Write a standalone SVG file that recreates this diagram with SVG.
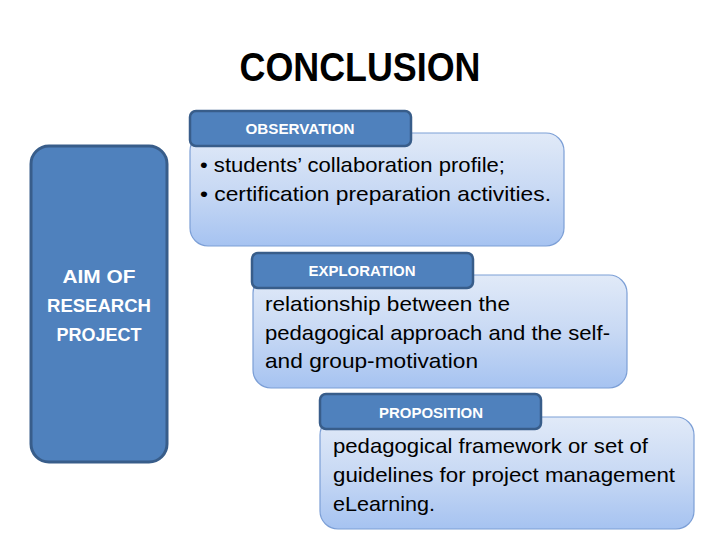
<svg xmlns="http://www.w3.org/2000/svg" width="720" height="540" viewBox="0 0 720 540">
<defs>
<linearGradient id="g" x1="0" y1="0" x2="0" y2="1">
<stop offset="0" stop-color="#e1eaf8"/>
<stop offset="0.5" stop-color="#c8d9f4"/>
<stop offset="1" stop-color="#a6c3f1"/>
</linearGradient>
<style>
.box{fill:url(#g);stroke:#7c9fd6;stroke-width:1.2}
.tab{fill:#4f81bd;stroke:#385d8a;stroke-width:2.5}
.aim{fill:#4f81bd;stroke:#385d8a;stroke-width:3}
.tl{font-family:"Liberation Sans",Arial,sans-serif;font-weight:bold;font-size:14px;fill:#fff;text-anchor:middle}
.body{font-family:"Liberation Sans",Arial,sans-serif;font-size:21px;fill:#000}
.aimt{font-family:"Liberation Sans",Arial,sans-serif;font-weight:bold;font-size:19px;fill:#fff;text-anchor:middle}
.title{font-family:"Liberation Sans",Arial,sans-serif;font-weight:bold;font-size:40px;fill:#000;text-anchor:middle}
</style>
</defs>
<rect width="720" height="540" fill="#fff"/>
<text class="title" x="360" y="81" textLength="241" lengthAdjust="spacingAndGlyphs">CONCLUSION</text>
<g id="aim">
<rect class="aim" x="31" y="146" width="136" height="316" rx="18"/>
<text class="aimt" x="99" y="283" textLength="73" lengthAdjust="spacingAndGlyphs">AIM OF</text>
<text class="aimt" x="99" y="312" textLength="104" lengthAdjust="spacingAndGlyphs">RESEARCH</text>
<text class="aimt" x="99" y="341" textLength="85" lengthAdjust="spacingAndGlyphs">PROJECT</text>
</g>
<g id="observation">
<rect class="box" x="190" y="133" width="374" height="113" rx="18"/>
<rect class="tab" x="190" y="111" width="221" height="35" rx="6"/>
<text class="tl" x="300" y="134" textLength="109" lengthAdjust="spacingAndGlyphs">OBSERVATION</text>
<text class="body" x="200" y="172" textLength="305" lengthAdjust="spacingAndGlyphs">• students’ collaboration profile;</text>
<text class="body" x="200" y="201" textLength="351" lengthAdjust="spacingAndGlyphs">• certification preparation activities.</text>
</g>
<g id="exploration">
<rect class="box" x="253" y="275" width="374" height="113" rx="18"/>
<rect class="tab" x="252" y="253" width="221" height="35" rx="6"/>
<text class="tl" x="362" y="276" textLength="107" lengthAdjust="spacingAndGlyphs">EXPLORATION</text>
<text class="body" x="265" y="311" textLength="245" lengthAdjust="spacingAndGlyphs">relationship between the</text>
<text class="body" x="265" y="340" textLength="345" lengthAdjust="spacingAndGlyphs">pedagogical approach and the self-</text>
<text class="body" x="265" y="368" textLength="213" lengthAdjust="spacingAndGlyphs">and group-motivation</text>
</g>
<g id="proposition">
<rect class="box" x="320" y="417" width="374" height="112" rx="18"/>
<rect class="tab" x="320" y="394" width="221" height="35" rx="6"/>
<text class="tl" x="431" y="418" textLength="104" lengthAdjust="spacingAndGlyphs">PROPOSITION</text>
<text class="body" x="333" y="453" textLength="315" lengthAdjust="spacingAndGlyphs">pedagogical framework or set of</text>
<text class="body" x="333" y="482" textLength="342" lengthAdjust="spacingAndGlyphs">guidelines for project management</text>
<text class="body" x="333" y="511" textLength="102" lengthAdjust="spacingAndGlyphs">eLearning.</text>
</g>
<g id="connectors"/>
</svg>
